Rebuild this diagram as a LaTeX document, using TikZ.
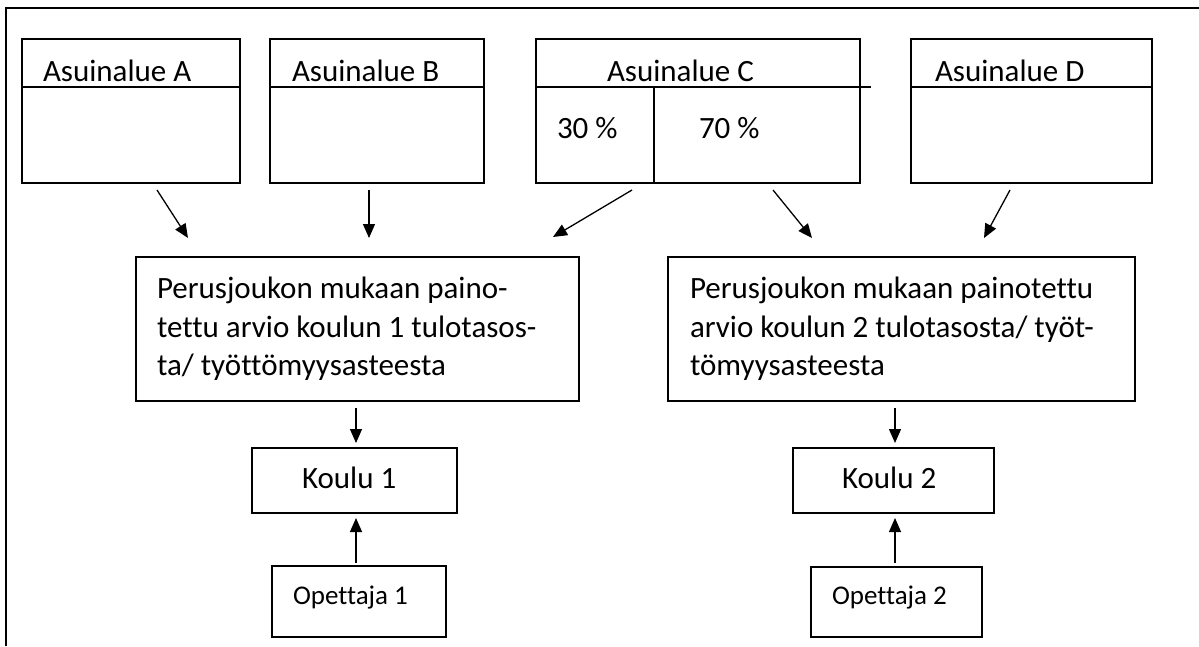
\documentclass[tikz,border=0pt]{standalone}
\usepackage{fontspec}
\setmainfont{Carlito}[Ligatures=NoCommon]
\usetikzlibrary{arrows.meta}
\tikzset{
  boxline/.style={draw=black, line width=1.3pt},
  frameline/.style={draw=black, line width=2pt},
  conn/.style={draw=black, line width=1.3pt, -{Triangle[length=14pt,width=12pt]}},
  txt/.style={inner sep=0pt, outer sep=0pt, anchor=base west, font=\fontsize{31}{39}\selectfont},
  smalltxt/.style={inner sep=0pt, outer sep=0pt, anchor=base west, font=\fontsize{27}{33}\selectfont},
}
\begin{document}
\begin{tikzpicture}[x=1pt,y=-1pt]
\useasboundingbox (0,0) rectangle (1199,646);
% outer frame (open at right and bottom)
\draw[frameline] (6,646) -- (6,8) -- (1199,8);

% residential areas
\draw[boxline] (22,39) rectangle (240,183);
\draw[boxline] (22,87) -- (240,87);
\draw[boxline] (270,39) rectangle (484,183);
\draw[boxline] (270,87) -- (484,87);
\draw[boxline] (536,39) rectangle (860,183);
\draw[boxline] (536,87) -- (871,87);
\draw[boxline] (654,87) -- (654,183);
\draw[boxline] (911,39) rectangle (1152,183);
\draw[boxline] (911,87) -- (1152,87);

\node[txt] (tA) at (43,81) {Asuinalue A};
\node[txt] (tB) at (292,81) {Asuinalue B};
\node[txt] (tC) at (607,81) {Asuinalue C};
\node[txt] (tD) at (935,81) {Asuinalue D};
\node[txt] (p30) at (557,138) {30 \%};
\node[txt] (p70) at (699,138) {70 \%};

% weighted estimates
\draw[boxline] (136,257) rectangle (579,401);
\draw[boxline] (668,257) rectangle (1135,401);
\node[txt] (m1a) at (157,298) {Perusjoukon mukaan paino-};
\node[txt] (m1b) at (157,337) {tettu arvio koulun 1 tulotasos-};
\node[txt] (m1c) at (157,375) {ta/ työttömyysasteesta};
\node[txt] (m2a) at (690,298) {Perusjoukon mukaan painotettu};
\node[txt] (m2b) at (690,337) {arvio koulun 2 tulotasosta/ työt-};
\node[txt] (m2c) at (690,375) {tömyysasteesta};

% schools and teachers
\draw[boxline] (252,448) rectangle (457,513);
\draw[boxline] (793,448) rectangle (994,513);
\node[txt] (k1) at (302,488) {Koulu 1};
\node[txt] (k2) at (842,488) {Koulu 2};
\draw[boxline] (272,566) rectangle (446,637);
\draw[boxline] (811,567) rectangle (982,637);
\node[smalltxt] (o1) at (293,604) {Opettaja 1};
\node[smalltxt] (o2) at (832,604) {Opettaja 2};

% arrow end points
\coordinate (aA1) at (157,190); \coordinate (aA2) at (188,238);
\coordinate (aB1) at (369,190); \coordinate (aB2) at (369,238);
\coordinate (aC1) at (632,190); \coordinate (aC2) at (553,237);
\coordinate (aC3) at (773,190); \coordinate (aC4) at (812,238);
\coordinate (aD1) at (1010,190); \coordinate (aD2) at (984,238);
\coordinate (k1a) at (356,408); \coordinate (k1b) at (356,443);
\coordinate (k2a) at (895,408); \coordinate (k2b) at (895,443);
\coordinate (o1a) at (356,563); \coordinate (o1b) at (356,518);
\coordinate (o2a) at (895,563); \coordinate (o2b) at (895,518);

\draw[conn] (aA1) -- (aA2);
\draw[conn] (aB1) -- (aB2);
\draw[conn] (aC1) -- (aC2);
\draw[conn] (aC3) -- (aC4);
\draw[conn] (aD1) -- (aD2);
\draw[conn] (k1a) -- (k1b);
\draw[conn] (k2a) -- (k2b);
\draw[conn] (o1a) -- (o1b);
\draw[conn] (o2a) -- (o2b);
\end{tikzpicture}
\end{document}
